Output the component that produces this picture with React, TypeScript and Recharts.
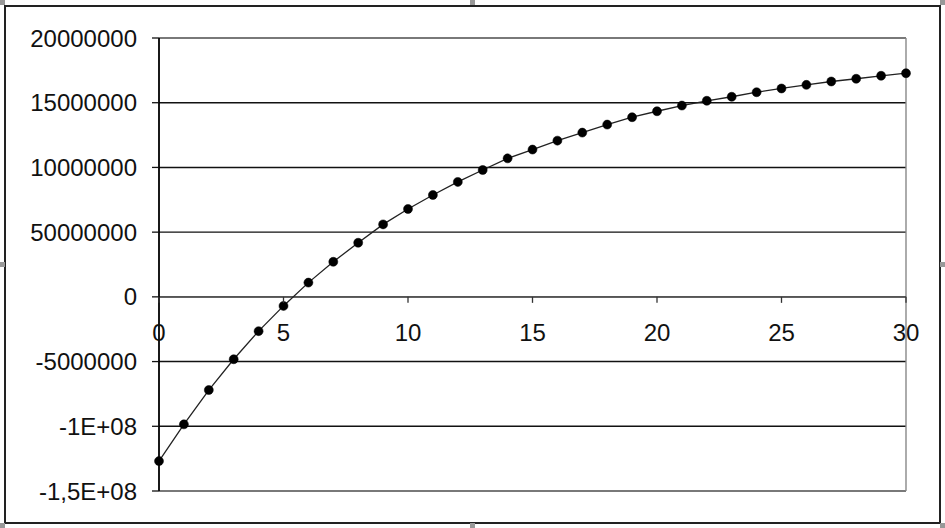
import { LineChart, Line, XAxis, YAxis, CartesianGrid, ReferenceLine } from 'recharts'

// x values (periods) and the plotted series
const periods = [0, 1, 2, 3, 4, 5, 6, 7, 8, 9, 10, 11, 12, 13, 14, 15, 16, 17, 18, 19, 20, 21, 22, 23, 24, 25, 26, 27, 28, 29, 30]
const values = [
  -126900000, -98500000, -72000000, -48200000, -26500000, -7000000, 11000000, 27100000, 41800000, 56000000,
  67900000, 78700000, 88800000, 98000000, 107000000, 113800000, 120700000, 126900000, 133100000, 138800000,
  143400000, 147800000, 151500000, 154600000, 158100000, 161000000, 163800000, 166400000, 168500000, 170800000,
  172800000,
]

const yTicks = [-150000000, -100000000, -50000000, 0, 50000000, 100000000, 150000000, 200000000]
const yTickLabels = ['-1,5E+08', '-1E+08', '-5000000', '0', '50000000', '10000000', '15000000', '20000000']
const xTicks = [0, 5, 10, 15, 20, 25, 30]

const W = 945
const H = 528
const margin = { top: 38, right: 39, bottom: 36, left: 0 }
const xAxisH = 1
const yMin = -150000000
const yMax = 200000000
const font = '"Liberation Sans", Arial, sans-serif'

const chartData = periods.map((p, i) => ({ x: p, y: values[i] }))

// x axis crosses at y = 0, so shift ticks up to the zero line
const plotH = H - margin.top - margin.bottom - xAxisH
const zeroY = margin.top + (plotH * yMax) / (yMax - yMin)

const XTick = (props: any) => {
  const { x, payload } = props
  return (
    <g>
      <line x1={x} x2={x} y1={zeroY} y2={zeroY + 6} stroke="#333" strokeWidth={1.3} />
      <text x={x} y={zeroY + 44} textAnchor="middle" fontSize={24} fontFamily={font} fill="#111">
        {payload.value}
      </text>
    </g>
  )
}

const handles = [
  [0, 0], [470, 0], [940, 0],
  [0, 262], [940, 262],
  [0, 523], [470, 523], [940, 523],
]

const App = () => {
  return (
    <div style={{ position: 'absolute', left: 0, top: 0, width: W, height: H, background: '#fff' }}>
      <div
        style={{
          position: 'absolute', left: 4, top: 5, width: 937, height: 519,
          border: '2px solid #222', boxSizing: 'border-box',
        }}
      />
      {handles.map(([hx, hy], i) => (
        <div key={i} style={{ position: 'absolute', left: hx, top: hy, width: 5, height: 5, background: '#999' }} />
      ))}
      <div style={{ position: 'absolute', left: 0, top: 0 }}>
        <LineChart width={W} height={H} data={chartData} margin={margin}>
          <CartesianGrid vertical={false} stroke="#111" strokeWidth={1.4} strokeOpacity={1} />
          <XAxis
            dataKey="x"
            type="number"
            domain={[0, 30]}
            ticks={xTicks}
            height={xAxisH}
            axisLine={false}
            tickLine={false}
            tick={(p: any) => <XTick {...p} />}
            interval={0}
          />
          <YAxis
            type="number"
            domain={[yMin, yMax]}
            ticks={yTicks}
            width={159}
            interval={0}
            tickFormatter={(v: number) => yTickLabels[yTicks.indexOf(v)]}
            tick={{ fontSize: 24, fontFamily: font, fill: '#111' }}
            tickSize={7}
            tickMargin={15}
            tickLine={{ stroke: '#111', strokeWidth: 1.3 }}
            axisLine={{ stroke: '#000', strokeWidth: 1.8 }}
          />
          <ReferenceLine y={yMax} stroke="#888" strokeWidth={1.4} />
          <ReferenceLine y={yMin} stroke="#888" strokeWidth={1.4} />
          <ReferenceLine x={30} stroke="#888" strokeWidth={1.4} />
          <ReferenceLine y={0} stroke="#555" strokeWidth={1.8} />
          <Line
            type="linear"
            dataKey="y"
            stroke="#222"
            strokeWidth={1.3}
            dot={{ r: 4.5, fill: '#000', stroke: '#000', strokeWidth: 0.5 }}
            isAnimationActive={false}
          />
        </LineChart>
      </div>
    </div>
  )
}

export default App
